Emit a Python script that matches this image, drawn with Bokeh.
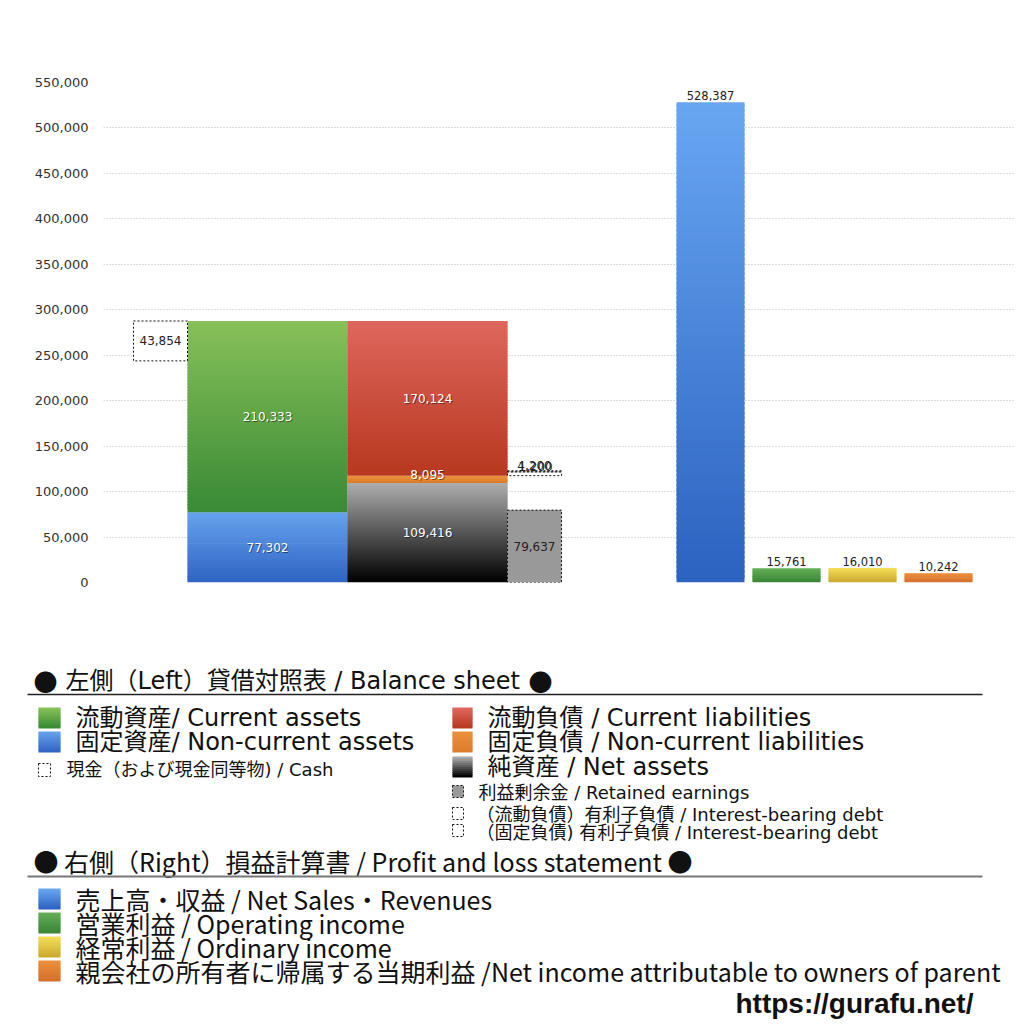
from bokeh.plotting import figure
from bokeh.layouts import column, row
from bokeh.models import Range1d, NumeralTickFormatter, FixedTicker
from bokeh.core.properties import value
from bokeh.embed import file_html
from bokeh.resources import INLINE

# ---------------- data ----------------
current_assets = 210333
noncurrent_assets = 77302
cash = 43854
current_liabilities = 170124
noncurrent_liabilities = 8095
net_assets = 109416
retained_earnings = 79637
debt_current = 4200
debt_noncurrent = 1200
pl_labels = ["売上高・収益", "営業利益", "経常利益", "親会社の所有者に帰属する当期利益"]
pl_values = [528387, 15761, 16010, 10242]
y_ticks = [0, 50000, 100000, 150000, 200000, 250000, 300000, 350000, 400000, 450000, 500000, 550000]

NUMFONT = value("DejaVu Sans")
LEGFONT = value("DejaVu Sans, Noto Sans CJK JP")
CJK = value("Noto Sans CJK JP")


def rgb(c):
    return "#%02x%02x%02x" % tuple(int(round(v)) for v in c)


def grad_quads(x0, x1, y0, y1, c_bot, c_top, n):
    lefts, rights, bots, tops, cols = [], [], [], [], []
    h = (y1 - y0) / n
    for i in range(n):
        b = y0 + h * i
        t = y0 + h * (i + 1) + (0.6 * h if i < n - 1 else 0)
        f = i / max(n - 1, 1)
        c = [c_bot[k] + (c_top[k] - c_bot[k]) * f for k in range(3)]
        lefts.append(x0); rights.append(x1); bots.append(b); tops.append(t); cols.append(rgb(c))
    return dict(left=lefts, right=rights, bottom=bots, top=tops, fill_color=cols)


def gradient(fig, x0, x1, y0, y1, c_bot, c_top, n=60):
    fig.quad(line_color=None, **grad_quads(x0, x1, y0, y1, c_bot, c_top, n))


GREEN = ((58, 138, 54), (134, 192, 88))
BLUE = ((48, 100, 196), (102, 162, 236))
RED = ((184, 56, 32), (222, 102, 92))
ORANGE = ((220, 124, 44), (234, 144, 58))
BLACK = ((0, 0, 0), (172, 172, 172))
PL_BLUE = ((44, 98, 192), (104, 166, 242))
PL_GREEN = ((58, 135, 55), (98, 172, 86))
PL_YELLOW = ((205, 170, 50), (242, 220, 86))
PL_ORANGE = ((212, 112, 44), (236, 142, 60))

# ---------------- chart ----------------
p = figure(width=1016, height=608, output_backend="svg", toolbar_location=None,
           x_range=Range1d(103, 1015), y_range=Range1d(0, 550000),
           min_border_left=103, min_border_right=1, min_border_top=82, min_border_bottom=26)
p.outline_line_color = None
p.xaxis.visible = False
p.xgrid.grid_line_color = None
p.ygrid.grid_line_color = "#bbbbbb"
p.ygrid.grid_line_dash = "1 2"
p.yaxis.ticker = FixedTicker(ticks=y_ticks)
p.yaxis.formatter = NumeralTickFormatter(format="0,0")
p.yaxis.axis_line_color = None
p.yaxis.major_tick_line_color = None
p.yaxis.minor_tick_line_color = None
p.yaxis.major_label_text_font = "DejaVu Sans"
p.yaxis.major_label_text_font_size = "13px"
p.yaxis.major_label_text_color = "#333333"
p.yaxis.major_label_standoff = 9

# layout positions (screen x)
XA = (187, 347)
XL = (347, 507)
XR = (507, 561)
XC = (133, 187)
PL_X = [710, 786, 862, 938]
PL_W = 68

total_assets = current_assets + noncurrent_assets
gradient(p, XA[0], XA[1], 0, noncurrent_assets, *BLUE)
gradient(p, XA[0], XA[1], noncurrent_assets, total_assets, *GREEN)
gradient(p, XL[0], XL[1], 0, net_assets, *BLACK)
gradient(p, XL[0], XL[1], net_assets, net_assets + noncurrent_liabilities, *ORANGE, n=4)
cl_base = net_assets + noncurrent_liabilities
gradient(p, XL[0], XL[1], cl_base, cl_base + current_liabilities, *RED)
p.quad(left=[XR[0]], right=[XR[1]], bottom=[0], top=[retained_earnings],
       fill_color="#999999", line_color="#111111", line_dash="2 2", line_width=1)
p.quad(left=[XC[0]], right=[XC[1]], bottom=[total_assets - cash], top=[total_assets],
       fill_color="white", line_color="#111111", line_dash="2 2", line_width=1)
p.quad(left=[XR[0], XR[0]], right=[XR[1], XR[1]],
       bottom=[cl_base, cl_base + debt_current],
       top=[cl_base + debt_current, cl_base + debt_current + debt_noncurrent],
       fill_color=None, line_color="#111111", line_dash="2 2", line_width=1)

for xc, v, g in zip(PL_X, pl_values, [PL_BLUE, PL_GREEN, PL_YELLOW, PL_ORANGE]):
    gradient(p, xc - PL_W / 2, xc + PL_W / 2, 0, v, *g, n=100 if v > 100000 else 8)


def fmt(v):
    return f"{v:,}"


wx = [sum(XA) / 2, sum(XA) / 2, sum(XL) / 2, sum(XL) / 2, sum(XL) / 2]
wy = [noncurrent_assets + current_assets / 2, noncurrent_assets / 2,
      cl_base + current_liabilities / 2, net_assets + noncurrent_liabilities / 2 + 5000, net_assets / 2]
wt = [fmt(current_assets), fmt(noncurrent_assets), fmt(current_liabilities),
      fmt(noncurrent_liabilities), fmt(net_assets)]
p.text(x=wx, y=wy, text=wt, x_offset=1, y_offset=1, text_color="#000000", text_alpha=0.45,
       text_font=NUMFONT, text_font_size="12px", text_align="center", text_baseline="middle")
p.text(x=wx, y=wy, text=wt, text_color="#ffffff",
       text_font=NUMFONT, text_font_size="12px", text_align="center", text_baseline="middle")

dx = [sum(XC) / 2, sum(XR) / 2]
dy = [total_assets - cash / 2, retained_earnings / 2]
dt = [fmt(cash), fmt(retained_earnings)]
p.text(x=dx, y=dy, text=dt, text_color="#222222",
       text_font=NUMFONT, text_font_size="12px", text_align="center", text_baseline="middle")
p.text(x=[sum(XR) / 2, sum(XR) / 2 + 1], y=[cl_base + debt_current, cl_base + debt_current],
       text=[fmt(debt_current), fmt(debt_noncurrent)], y_offset=[-2, -1], text_color="#222222",
       text_font=NUMFONT, text_font_size="12px", text_align="center", text_baseline="bottom")
p.text(x=PL_X, y=pl_values, text=[fmt(v) for v in pl_values], y_offset=-2, text_color="#222222",
       text_font=NUMFONT, text_font_size="11.5px", text_align="center", text_baseline="bottom")

# ---------------- legend panel (screen coords) ----------------
q = figure(width=1016, height=416, output_backend="svg", toolbar_location=None,
           x_range=Range1d(0, 1016), y_range=Range1d(1024, 608),
           min_border=0, min_border_left=0, min_border_right=0, min_border_top=0, min_border_bottom=0)
q.outline_line_color = None
q.axis.visible = False
q.grid.visible = False

q.text(x=[33, 528], y=[680, 680], text=["●", "●"], text_font=CJK,
       text_font_size="24px", text_color="#111111", text_baseline="middle")
q.text(x=[65], y=[680], text=["左側（Left）貸借対照表 / Balance sheet"], text_font=LEGFONT,
       text_font_size="24px", text_color="#111111", text_baseline="middle")
q.segment(x0=[27], x1=[982], y0=[694], y1=[694], line_color="#222222", line_width=1.5)
q.text(x=[33], y=[860], text=["● 右側（Right）損益計算書 / Profit and loss statement ●"], text_font=CJK,
       text_font_size="25px", text_color="#111111", text_baseline="middle")
q.segment(x0=[27], x1=[982], y0=[876], y1=[876], line_color="#777777", line_width=2)


def swatch(x0, x1, y0, y1, g):
    q.quad(line_color=None, **grad_quads(x0, x1, y1, y0, g[0], g[1], 10))


big = [
    (38, 60, 707, 728, GREEN, 75, "流動資産/ Current assets"),
    (38, 60, 731, 752, BLUE, 75, "固定資産/ Non-current assets"),
    (452, 472, 707, 728, RED, 487, "流動負債 /  Current liabilities"),
    (452, 472, 731, 752, ORANGE, 487, "固定負債 / Non-current liabilities"),
    (452, 472, 756, 777, BLACK, 487, "純資産 / Net assets"),
]
for x0, x1, y0, y1, g, tx, t in big:
    swatch(x0, x1, y0, y1, g)
    q.text(x=[tx], y=[(y0 + y1) / 2], text=[t], text_font=LEGFONT, text_font_size="24px",
           text_color="#111111", text_baseline="middle")

pl_leg = [
    (888, 909, PL_BLUE, pl_labels[0] + " / Net Sales・Revenues"),
    (912, 933, PL_GREEN, pl_labels[1] + " / Operating income"),
    (936, 957, PL_YELLOW, pl_labels[2] + " / Ordinary income"),
    (960, 981, PL_ORANGE, pl_labels[3] + " /Net income attributable to owners of parent"),
]
for y0, y1, g, t in pl_leg:
    swatch(38, 60, y0, y1, g)
    q.text(x=[75], y=[(y0 + y1) / 2], text=[t], text_font=CJK, text_font_size="25px",
           text_color="#111111", text_baseline="middle")

q.quad(left=[38], right=[50], top=[763], bottom=[776], fill_color="white", line_color="#111111",
       line_dash="2 2", line_width=1)
q.text(x=[66], y=[769], text=["現金（および現金同等物) / Cash"], text_font=LEGFONT, text_font_size="18px",
       text_color="#111111", text_baseline="middle")
q.quad(left=[452], right=[463], top=[785], bottom=[797], fill_color="#999999", line_color="#111111",
       line_dash="2 2", line_width=1)
q.text(x=[478], y=[792], text=["利益剰余金 / Retained earnings"], text_font=LEGFONT, text_font_size="18px",
       text_color="#111111", text_baseline="middle")
q.quad(left=[452, 452], right=[463, 463], top=[807, 824], bottom=[819, 836], fill_color="white",
       line_color="#111111", line_dash="2 2", line_width=1)
q.text(x=[476, 476], y=[814, 832],
       text=["（流動負債）有利子負債 / Interest-bearing debt", "（固定負債) 有利子負債 / Interest-bearing debt"],
       text_font=LEGFONT, text_font_size="18px", text_color="#111111", text_baseline="middle")

q.text(x=[735], y=[1003], text=["https://gurafu.net/"], text_font=value("Liberation Sans"),
       text_font_size="28px", text_font_style="bold", text_color="#111111", text_baseline="middle")

layout = column(p, row(q), spacing=0)
open("out.html", "w").write(file_html(layout, INLINE))
